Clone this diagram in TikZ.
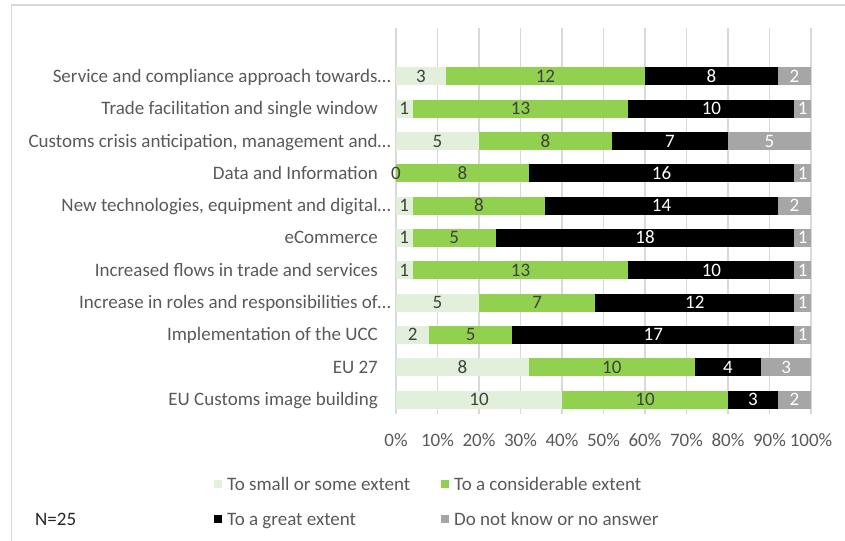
\documentclass[tikz,border=0pt]{standalone}
\usepackage{fontspec}
\setmainfont{Carlito}
\definecolor{smallext}{HTML}{E2EFDA}
\definecolor{consext}{HTML}{92D050}
\definecolor{greatext}{HTML}{000000}
\definecolor{noanswer}{HTML}{A6A6A6}
\definecolor{gridgray}{HTML}{D9D9D9}
\definecolor{txtgray}{HTML}{595959}
\definecolor{numgray}{HTML}{404040}
\tikzset{
  catlabel/.style={anchor=base east, text=txtgray, inner sep=0pt},
  ticklabel/.style={anchor=base, text=txtgray, inner sep=0pt},
  darknum/.style={anchor=base, text=numgray, inner sep=0pt},
  lightnum/.style={anchor=base, text=white, inner sep=0pt},
  legendtext/.style={anchor=base west, text=txtgray, inner sep=0pt},
  gridline/.style={draw=gridgray, line width=1.2bp},
}
\begin{document}
\begin{tikzpicture}[x=1bp, y=-1bp, font=\fontsize{19bp}{22bp}\selectfont]
\useasboundingbox (0,0) rectangle (845,541);
% frame of the chart area
\draw[gridgray, line width=2bp] (11,5) -- (845,5);
\draw[gridgray, line width=1bp] (11,5) -- (11,541);
% grid and axis labels
\foreach \k in {0,...,10}{
  \draw[gridline] (396+41.5*\k,28) -- (396+41.5*\k,414);
  \node[ticklabel] (tick\k) at (396+41.5*\k,446) {\the\numexpr\k*10\relax\%};
}
% bars
\foreach \lab/\lx/\a/\b/\c/\d [count=\i] in {
  {Service and compliance approach towards…}/391/3/12/8/2,
  {Trade facilitation and single window}/378/1/13/10/1,
  {Customs crisis anticipation, management and…}/391/5/8/7/5,
  {Data and Information}/378/0/8/16/1,
  {New technologies, equipment and digital…}/391/1/8/14/2,
  {eCommerce}/378/1/5/18/1,
  {Increased flows in trade and services}/378/1/13/10/1,
  {Increase in roles and responsibilities of…}/391/5/7/12/1,
  {Implementation of the UCC}/378/2/5/17/1,
  {EU 27}/378/8/10/4/3,
  {EU Customs image building}/378/10/10/3/2}{
  \pgfmathsetmacro{\y}{76.5+32.3*(\i-1)}
  \pgfmathsetmacro{\xa}{396+16.6*\a}
  \pgfmathsetmacro{\xb}{\xa+16.6*\b}
  \pgfmathsetmacro{\xc}{\xb+16.6*\c}
  \fill[smallext] (396,\y-9) rectangle (\xa,\y+9);
  \fill[consext] (\xa,\y-9) rectangle (\xb,\y+9);
  \fill[greatext] (\xb,\y-9) rectangle (\xc,\y+9);
  \fill[noanswer] (\xc,\y-9) rectangle (811,\y+9);
  \node[catlabel] (cat\i) at (\lx,\y+6) {\lab};
  \node[darknum] (small\i) at ({(396+\xa)/2},\y+6) {\a};
  \node[darknum] (cons\i) at ({(\xa+\xb)/2},\y+6) {\b};
  \node[lightnum] (great\i) at ({(\xb+\xc)/2},\y+6) {\c};
  \node[lightnum] (noans\i) at ({(\xc+811)/2},\y+6) {\d};
}
% legend
\fill[smallext] (214,480) rectangle (222,488);
\node[legendtext] (leg1) at (227,490) {To small or some extent};
\fill[consext] (441,480) rectangle (449,488);
\node[legendtext] (leg2) at (454,490) {To a considerable extent};
\fill[greatext] (214,515) rectangle (222,523);
\node[legendtext] (leg3) at (227,525) {To a great extent};
\fill[noanswer] (441,515) rectangle (449,523);
\node[legendtext] (leg4) at (454,525) {Do not know or no answer};
\node[anchor=base west, inner sep=0pt, text=black!85] (nresp) at (35,525) {N=25};
\end{tikzpicture}
\end{document}
